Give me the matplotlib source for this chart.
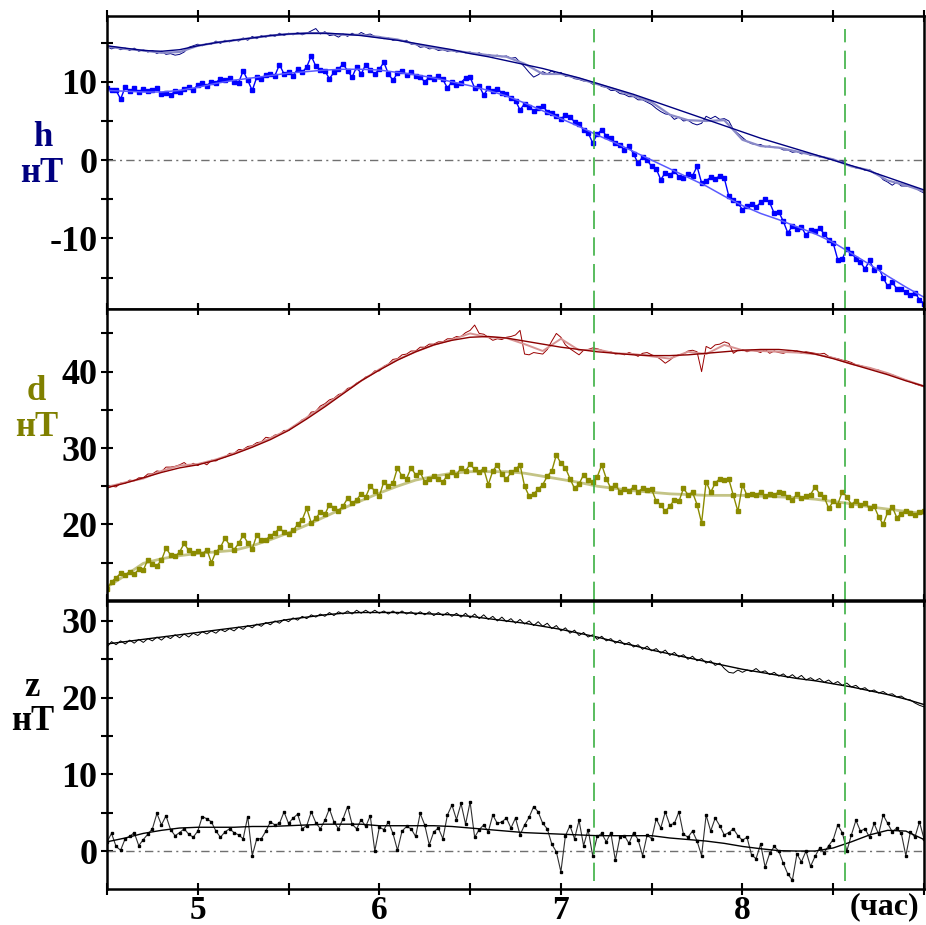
import matplotlib.pyplot as plt
import numpy as np

# readings every 0.025 h (4.5 .. 9.0), smoothed curves every 0.1 h
h_blue = [9.2, 9.0, 8.9, 7.8, 9.3, 8.8, 9.2, 8.7, 9.1, 8.8,
          8.9, 9.2, 8.4, 8.6, 8.3, 8.8, 8.7, 9.1, 9.3, 9.0,
          9.6, 9.8, 9.5, 10.0, 9.9, 10.4, 10.2, 10.5, 10.0, 9.9,
          11.4, 10.2, 8.9, 10.6, 10.4, 10.9, 11.0, 10.8, 12.2, 11.0,
          11.3, 10.8, 11.6, 11.2, 11.9, 13.3, 12.0, 11.5, 11.4, 10.4,
          11.2, 11.6, 12.3, 11.4, 10.6, 11.9, 11.0, 12.2, 11.5, 11.0,
          11.6, 12.5, 11.0, 10.2, 11.1, 11.4, 10.9, 11.2, 10.8, 10.6,
          10.0, 10.6, 10.4, 10.7, 10.3, 9.2, 10.0, 9.6, 9.9, 10.5,
          10.6, 9.2, 9.5, 8.3, 9.2, 8.8, 9.1, 8.6, 8.4, 7.9,
          7.6, 6.4, 7.2, 6.8, 6.3, 6.6, 6.9, 6.2, 6.0, 5.6,
          5.3, 5.7, 5.5, 4.9, 4.6, 3.9, 3.5, 2.2, 3.3, 3.9,
          3.1, 2.8, 2.2, 1.9, 1.3, 1.8, 0.8, -0.4, 0.4, 0.0,
          -0.8, -1.1, -2.5, -1.6, -1.9, -1.4, -2.1, -2.3, -1.8, -2.0,
          -0.8, -2.9, -2.6, -2.2, -2.4, -2.0, -2.3, -4.6, -5.1, -5.5,
          -6.3, -5.8, -5.6, -6.0, -5.4, -5.0, -5.4, -6.8, -6.6, -7.8,
          -9.3, -8.4, -8.8, -8.5, -9.6, -8.9, -9.1, -8.7, -9.4, -10.2,
          -10.6, -12.7, -12.6, -11.3, -11.8, -12.6, -13.0, -13.9, -12.8, -14.0,
          -13.7, -15.0, -16.1, -15.6, -16.4, -16.5, -16.8, -17.2, -16.9, -17.8,
          -18.3]
h_navy = [14.5, 14.2, 14.4, 14.1, 14.3, 14.0, 14.3, 13.9, 14.1, 13.8,
          14.0, 13.6, 13.9, 13.5, 13.6, 13.4, 13.5, 13.8, 14.4, 14.6,
          14.8, 14.6, 14.9, 14.8, 15.2, 14.9, 15.3, 15.1, 15.4, 15.2,
          15.6, 15.3, 15.8, 15.5, 15.9, 15.7, 16.0, 15.8, 16.2, 15.9,
          16.2, 16.0, 16.3, 16.0, 16.2, 16.5, 16.8, 16.1, 16.4, 15.9,
          16.0, 15.7, 16.1, 15.8, 16.2, 15.9, 16.3, 16.0, 16.1, 15.8,
          15.8, 15.5, 15.6, 15.3, 15.4, 15.2, 15.3, 14.8, 14.8, 14.4,
          14.5, 14.2, 14.3, 14.0, 14.1, 13.9, 14.0, 13.8, 13.9, 13.7,
          13.8, 13.5, 13.7, 13.4, 13.5, 13.3, 13.4, 13.2, 13.3, 13.0,
          13.1, 12.5, 11.9, 11.2, 10.6, 10.9, 11.3, 11.0, 11.4, 11.0,
          11.2, 10.7, 10.7, 10.4, 10.3, 10.1, 10.1, 9.7, 9.8, 9.4,
          9.3, 8.9, 8.9, 8.5, 8.4, 8.1, 8.1, 7.7, 7.7, 7.4,
          7.1, 6.6, 6.2, 5.9, 5.8, 5.2, 5.5, 5.0, 5.1, 4.7,
          4.5, 4.7, 5.6, 5.3, 5.6, 5.2, 5.3, 5.0, 3.9, 3.4,
          2.9, 2.4, 2.1, 2.0, 2.0, 1.7, 1.8, 1.6, 1.6, 1.3,
          1.3, 1.0, 1.1, 0.8, 0.9, 0.6, 0.7, 0.4, 0.4, 0.1,
          0.1, -0.2, -0.1, -0.6, -0.7, -1.0, -1.0, -1.3, -1.2, -1.7,
          -1.8, -2.5, -2.8, -3.2, -2.8, -3.3, -3.3, -3.4, -3.5, -3.9,
          -4.2]
h_navy_smooth = [14.5, 14.2, 14.0, 13.7, 13.8, 14.6, 15.0, 15.3, 15.6, 15.9,
                 16.1, 16.2, 16.2, 16.0, 16.0, 15.7, 15.4, 14.8, 14.3, 14.0,
                 13.7, 13.4, 13.2, 12.3, 11.0, 11.0, 10.4, 9.7, 9.0, 8.2,
                 7.4, 5.8, 5.1, 5.0, 5.1, 2.6, 1.8, 1.6, 1.1, 0.6,
                 0.1, -0.8, -1.3, -2.6, -3.2, -4.0]
h_navy_fit = [14.6, 14.3, 14.0, 13.9, 14.1, 14.6, 15.0, 15.3, 15.6, 15.9,
              16.1, 16.2, 16.2, 16.1, 15.9, 15.6, 15.3, 14.9, 14.5, 14.1,
              13.6, 13.2, 12.7, 12.2, 11.7, 11.1, 10.5, 9.8, 9.1, 8.4,
              7.6, 6.8, 6.0, 5.2, 4.4, 3.6, 2.8, 2.1, 1.4, 0.7,
              0.0, -0.7, -1.4, -2.2, -3.0, -3.8]
h_blue_fit = [8.9, 8.8, 8.7, 8.7, 8.9, 9.3, 9.8, 10.2, 10.5, 10.8,
              11.1, 11.3, 11.5, 11.6, 11.6, 11.5, 11.2, 10.9, 10.5, 10.0,
              9.5, 8.9, 8.2, 7.3, 6.3, 5.3, 4.3, 3.2, 2.2, 1.1,
              0.0, -1.1, -2.2, -3.3, -4.6, -5.8, -6.8, -7.6, -8.5, -9.4,
              -10.5, -11.9, -13.3, -14.8, -16.2, -17.5]

d_red = [24.7, 25.0, 24.9, 25.4, 25.4, 25.8, 25.7, 26.1, 26.1, 26.6,
         26.6, 27.0, 26.9, 27.5, 27.5, 27.6, 27.8, 28.1, 27.6, 28.0,
         27.7, 28.1, 27.8, 28.4, 28.3, 28.7, 28.8, 29.3, 29.3, 29.8,
         29.8, 30.2, 30.3, 30.7, 30.8, 31.4, 31.3, 31.7, 31.8, 32.3,
         32.3, 32.8, 33.1, 33.7, 33.9, 34.7, 34.8, 35.5, 35.8, 36.3,
         36.5, 37.0, 37.2, 37.8, 38.0, 38.5, 38.8, 39.3, 39.5, 40.1,
         40.1, 40.7, 41.0, 41.6, 41.7, 42.2, 42.3, 42.7, 42.7, 43.2,
         43.2, 43.6, 43.6, 43.9, 43.9, 44.3, 44.3, 44.6, 44.6, 45.1,
         45.4, 46.1, 45.0, 44.9, 44.5, 44.1, 44.3, 44.2, 44.5, 44.6,
         44.8, 45.4, 42.3, 42.2, 42.5, 42.4, 42.3, 42.9, 44.0, 45.0,
         44.5, 43.5, 43.0, 42.6, 42.2, 42.8, 42.9, 43.1, 43.0, 42.8,
         42.5, 42.6, 42.3, 42.4, 42.2, 42.5, 42.3, 42.0, 42.4, 42.5,
         42.2, 42.0, 41.6, 41.1, 41.5, 42.0, 42.2, 42.3, 42.7, 42.8,
         42.6, 40.0, 43.3, 43.0, 43.5, 43.6, 43.9, 43.7, 42.4, 42.8,
         42.9, 42.6, 42.8, 42.7, 42.5, 42.9, 42.4, 42.7, 42.5, 42.4,
         42.6, 42.5, 42.7, 42.4, 42.6, 42.5, 42.4, 42.3, 42.4, 42.0,
         41.8, 41.7, 41.5, 41.4, 41.2, 40.9, 40.8, 40.6, 40.5, 40.3,
         40.2, 39.9, 39.7, 39.6, 39.3, 39.1, 38.9, 38.7, 38.4, 38.2,
         38.0]
d_red_smooth = [24.9, 25.5, 26.0, 27.0, 27.7, 27.9, 28.5, 29.3, 30.2, 31.3,
                32.4, 34.0, 35.6, 37.2, 38.8, 40.3, 41.6, 42.6, 43.5, 44.2,
                45.0, 44.5, 44.4, 43.6, 42.7, 44.3, 42.8, 42.9, 42.4, 42.3,
                42.0, 41.7, 42.6, 42.3, 43.5, 42.8, 42.7, 42.6, 42.5, 42.3,
                41.8, 41.0, 40.5, 39.8, 38.9, 38.1]
d_red_fit = [24.8, 25.4, 26.1, 26.8, 27.4, 27.8, 28.4, 29.2, 30.1, 31.1,
             32.3, 33.8, 35.4, 37.1, 38.8, 40.2, 41.5, 42.6, 43.5, 44.1,
             44.5, 44.6, 44.4, 44.0, 43.6, 43.2, 42.9, 42.6, 42.4, 42.2,
             42.1, 42.1, 42.2, 42.4, 42.6, 42.8, 42.9, 42.9, 42.7, 42.3,
             41.7, 41.0, 40.3, 39.6, 38.8, 38.1]
d_olive = [11.5, 12.5, 13.0, 13.6, 13.4, 13.8, 13.5, 14.1, 14.0, 15.4,
           14.8, 14.6, 15.3, 16.9, 16.0, 15.8, 16.4, 17.5, 16.6, 16.2,
           16.5, 16.1, 16.7, 15.0, 16.4, 17.0, 18.2, 17.3, 16.7, 17.5,
           18.6, 17.6, 16.8, 18.6, 17.9, 18.0, 18.5, 18.9, 19.5, 19.0,
           18.7, 19.2, 20.0, 20.6, 22.1, 20.2, 20.8, 21.6, 21.3, 22.6,
           22.2, 21.8, 22.4, 23.4, 22.8, 23.2, 24.0, 23.6, 25.0, 24.4,
           23.7, 25.6, 25.0, 25.4, 27.4, 26.3, 26.0, 27.4, 26.5, 26.8,
           25.6, 26.0, 26.3, 25.9, 25.6, 26.4, 26.8, 26.5, 27.4, 27.0,
           27.9, 27.2, 26.9, 27.3, 25.2, 27.0, 27.8, 26.6, 25.9, 26.8,
           27.2, 27.8, 25.0, 23.7, 24.0, 24.6, 25.2, 26.3, 27.0, 29.1,
           28.0, 27.4, 26.0, 24.7, 25.3, 26.5, 25.8, 25.6, 26.2, 27.8,
           26.0, 24.7, 25.2, 24.3, 24.6, 24.4, 24.9, 24.3, 24.7, 24.5,
           24.6, 23.0, 22.6, 21.7, 22.4, 23.2, 23.0, 24.7, 23.9, 24.2,
           22.6, 20.2, 25.6, 24.2, 25.4, 26.0, 25.8, 25.9, 23.8, 21.7,
           25.2, 23.8, 24.0, 23.9, 24.2, 23.7, 24.0, 23.8, 24.3, 24.1,
           23.6, 23.2, 24.0, 23.5, 23.7, 23.9, 24.9, 24.0, 23.6, 22.1,
           23.0, 22.6, 24.3, 23.6, 22.6, 23.1, 22.6, 22.8, 22.1, 22.4,
           21.0, 20.0, 21.6, 22.3, 20.9, 21.4, 21.8, 21.5, 21.2, 21.6,
           21.7]
d_olive_fit = [11.8, 13.3, 14.9, 15.5, 15.9, 16.2, 16.4, 16.6, 17.2, 18.0,
               18.9, 19.9, 21.0, 22.1, 23.1, 24.1, 25.0, 25.8, 26.3, 26.7,
               26.9, 26.9, 26.9, 26.7, 26.3, 25.9, 25.5, 25.0, 24.7, 24.4,
               24.2, 24.0, 23.9, 23.8, 23.8, 23.8, 23.7, 23.6, 23.5, 23.3,
               23.0, 22.7, 22.3, 22.0, 21.7, 21.4]

z_top = [26.6, 27.3, 26.9, 27.4, 27.0, 27.5, 27.1, 27.6, 27.2, 27.7,
         27.4, 27.9, 27.5, 28.0, 27.7, 28.2, 27.8, 28.3, 27.9, 28.4,
         28.1, 28.6, 28.3, 28.7, 28.4, 28.9, 28.6, 29.0, 28.7, 29.2,
         28.9, 29.4, 29.1, 29.6, 29.3, 29.8, 29.5, 30.0, 29.7, 30.2,
         29.9, 30.4, 30.1, 30.6, 30.3, 30.8, 30.5, 30.9, 30.6, 31.1,
         30.7, 31.2, 30.9, 31.3, 30.9, 31.4, 31.0, 31.4, 31.0, 31.4,
         31.0, 31.3, 30.9, 31.3, 30.9, 31.3, 30.9, 31.2, 30.8, 31.2,
         30.8, 31.2, 30.7, 31.1, 30.7, 31.1, 30.6, 31.0, 30.5, 31.0,
         30.4, 30.9, 30.3, 30.8, 30.2, 30.6, 30.0, 30.5, 29.9, 30.3,
         29.7, 30.2, 29.6, 30.0, 29.4, 29.9, 29.3, 29.7, 29.0, 29.4,
         28.7, 29.1, 28.4, 28.8, 28.1, 28.5, 27.9, 28.2, 27.6, 28.0,
         27.4, 27.7, 27.1, 27.5, 26.9, 27.2, 26.6, 26.9, 26.3, 26.7,
         26.1, 26.4, 25.8, 26.2, 25.5, 25.9, 25.3, 25.6, 25.0, 25.4,
         24.8, 25.1, 24.5, 24.8, 24.2, 24.5, 23.8, 23.3, 23.2, 23.6,
         23.3, 23.6, 23.4, 23.8, 23.3, 23.5, 23.0, 23.3, 22.8, 23.1,
         22.6, 23.0, 22.5, 22.9, 22.3, 22.6, 22.2, 22.5, 22.0, 22.3,
         21.8, 22.1, 21.6, 21.9, 21.4, 21.6, 21.1, 21.3, 20.8, 21.0,
         20.6, 20.8, 20.4, 20.5, 20.1, 20.2, 19.8, 19.7, 19.3, 19.0,
         18.8]
z_top_fit = [27.0, 27.3, 27.6, 27.9, 28.2, 28.5, 28.8, 29.1, 29.4, 29.8,
             30.2, 30.5, 30.8, 31.0, 31.1, 31.1, 31.1, 31.0, 30.9, 30.8,
             30.6, 30.3, 30.0, 29.7, 29.3, 28.9, 28.4, 27.9, 27.3, 26.8,
             26.2, 25.7, 25.2, 24.7, 24.2, 23.7, 23.3, 22.9, 22.5, 22.2,
             21.8, 21.4, 20.9, 20.4, 19.8, 19.1]
z_low = [1.2, 2.3, 0.6, 0.1, 1.6, 1.9, 2.4, 0.7, 1.5, 2.2,
         2.9, 4.9, 3.4, 4.6, 2.8, 2.0, 2.4, 2.9, 2.2, 1.8,
         2.6, 4.5, 4.2, 3.8, 2.6, 1.8, 2.5, 2.9, 2.4, 2.1,
         1.6, 4.5, -0.6, 1.6, 1.6, 2.6, 3.8, 3.4, 3.6, 5.1,
         3.6, 4.3, 4.8, 2.9, 3.3, 5.1, 3.7, 2.9, 4.0, 5.5,
         3.8, 2.9, 4.2, 5.8, 3.5, 2.9, 4.1, 3.2, 4.6, 0.0,
         3.1, 2.8, 3.8, 2.3, 0.1, 2.6, 3.2, 2.9, 1.9, 4.9,
         3.4, 0.8, 2.5, 3.0, 1.6, 4.7, 6.0, 4.1, 6.2, 3.5,
         6.4, 1.8, 2.8, 3.4, 2.5, 4.7, 3.6, 3.8, 4.3, 3.0,
         4.3, 2.1, 3.4, 4.4, 5.8, 5.1, 3.6, 2.9, 0.9, -0.1,
         -2.7, 2.0, 3.3, 1.6, 4.0, 0.7, 2.8, -0.6, 1.9, 2.3,
         1.2, 2.4, -1.2, 1.8, 2.0, 1.0, 2.4, 1.5, -0.6, 2.1,
         1.6, 4.2, 3.0, 5.1, 3.4, 3.6, 5.1, 2.2, 1.8, 2.6,
         1.3, -0.6, 4.7, 2.6, 4.3, 3.3, 2.1, 2.4, 2.9, 2.0,
         1.4, 1.8, -0.5, -1.0, 0.9, -2.1, -0.3, 0.6, 0.0, -1.6,
         -3.0, -3.8, -0.4, -1.4, 0.0, -2.0, -0.7, 0.4, -0.2, 0.7,
         1.5, 3.4, 2.4, 0.0, 2.1, 4.0, 2.6, 2.9, 1.8, 3.6,
         2.2, 4.7, 3.6, 2.5, 3.0, 2.3, -0.6, 2.5, 1.8, 3.8,
         1.6]
z_low_fit = [1.2, 1.7, 2.3, 2.7, 3.0, 3.1, 3.1, 3.1, 3.2, 3.2,
             3.3, 3.4, 3.5, 3.5, 3.5, 3.3, 3.3, 3.3, 3.3, 3.2,
             3.0, 2.8, 2.6, 2.4, 2.3, 2.2, 2.1, 2.0, 2.0, 2.0,
             2.0, 1.7, 1.5, 1.3, 1.0, 0.6, 0.3, 0.05, 0.0, 0.0,
             0.4, 1.2, 2.1, 2.7, 2.6, 1.5]

green_marks = [7.18, 8.565]
hour_labels = ['', '5', '', '6', '', '7', '', '8', '', '']

t = np.linspace(4.5, 9.0, len(h_blue))
tf = np.linspace(4.5, 9.0, len(h_blue_fit))

plt.rcParams['font.family'] = ['Liberation Serif', 'DejaVu Serif']
plt.rcParams['font.weight'] = 'bold'
plt.rcParams['axes.unicode_minus'] = False

fig = plt.figure(figsize=(9.26, 9.25), dpi=100)
W, H = 926, 925
L, R = 107, 924
boxes = [(16, 309), (309, 600), (601, 889)]
axes = []
for top, bot in boxes:
    ax = fig.add_axes([L / W, 1 - bot / H, (R - L) / W, (bot - top) / H])
    axes.append(ax)
ax1, ax2, ax3 = axes

zero_style = dict(color='#707070', lw=1, dashes=(6, 3, 1.5, 3))

# h panel
ax1.axhline(0, **zero_style)
ax1.plot(t, h_navy, color='#000080', lw=0.7)
ax1.plot(tf, h_navy_smooth, color='#8a8ac8', lw=1.6)
ax1.plot(tf, h_navy_fit, color='#000080', lw=1.0)
ax1.plot(t, h_blue, color='#0000ff', lw=1.0, marker='s', ms=2.4, mec='#0000ff')
ax1.plot(tf, h_blue_fit, color='#5a5aff', lw=1.1)
ax1.set_ylim(-19, 18.4)
ax1.set_yticks([-10, 0, 10])
ax1.set_yticks([-15, -5, 5, 15], minor=True)

# d panel
ax2.plot(t, d_red, color='#9a0000', lw=0.7)
ax2.plot(tf, d_red_smooth, color='#d89494', lw=1.4)
ax2.plot(tf, d_red_fit, color='#8b0000', lw=1.0)
ax2.plot(tf, d_olive_fit, color='#c4c486', lw=2.0)
ax2.plot(t, d_olive, color='#8b8b00', lw=1.0, marker='s', ms=2.4, mec='#8b8b00')
ax2.set_ylim(10.1, 48.2)
ax2.set_yticks([20, 30, 40])
ax2.set_yticks([15, 25, 35, 45], minor=True)

# z panel
ax3.axhline(0, **zero_style)
ax3.plot(t, z_top, color='#000000', lw=0.7)
ax3.plot(tf, z_top_fit, color='#000000', lw=1.0)
ax3.plot(t, z_low, color='#303030', lw=0.8, marker='s', ms=2.0, mec='#000000', mfc='#000000')
ax3.plot(tf, z_low_fit, color='#000000', lw=1.0)
ax3.set_ylim(-4.95, 32.6)
ax3.set_yticks([0, 10, 20, 30])
ax3.set_yticks([5, 15, 25], minor=True)

# green event markers
for x in green_marks:
    ax1.axvline(x, ymin=0, ymax=0.955, color='#3cb043', lw=1.2, dashes=(11, 5))
    ax2.axvline(x, color='#3cb043', lw=1.2, dashes=(11, 5))
    ax3.axvline(x, ymin=0.028, ymax=1, color='#3cb043', lw=1.2, dashes=(11, 5))

hours = np.arange(4.5, 9.01, 0.5)
for ax in axes:
    ax.set_xlim(4.5, 9.0)
    ax.set_xticks(hours)
    ax.tick_params(axis='both', which='both', direction='inout', length=8, width=1.5,
                   labelsize=26, pad=3, top=True, bottom=True, right=False)
    ax.tick_params(axis='x', labelbottom=False)
    for s in ax.spines.values():
        s.set_linewidth(1.8)
ax3.tick_params(axis='x', labelbottom=True, pad=0, labelsize=24)
ax3.set_xticklabels(hour_labels)
for ax in axes:
    for lab in ax.get_yticklabels() + ax.get_xticklabels():
        lab.set_fontweight('bold')

# axis captions
cap = dict(fontsize=25, ha='center', va='center', weight='bold')
fig.text(43 / W, 1 - 137 / H, 'h', color='#000080', **cap)
fig.text(42 / W, 1 - 173 / H, 'нТ', color='#000080', **cap)
fig.text(36 / W, 1 - 392 / H, 'd', color='#808000', **cap)
fig.text(37 / W, 1 - 428 / H, 'нТ', color='#808000', **cap)
fig.text(32 / W, 1 - 688 / H, 'z', color='#000000', **cap)
fig.text(33 / W, 1 - 722 / H, 'нТ', color='#000000', **cap)
fig.text(884 / W, 1 - 907 / H, '(час)', color='#000000', fontsize=23, ha='center', va='center', weight='bold')

fig.savefig('out.png', dpi=100)
